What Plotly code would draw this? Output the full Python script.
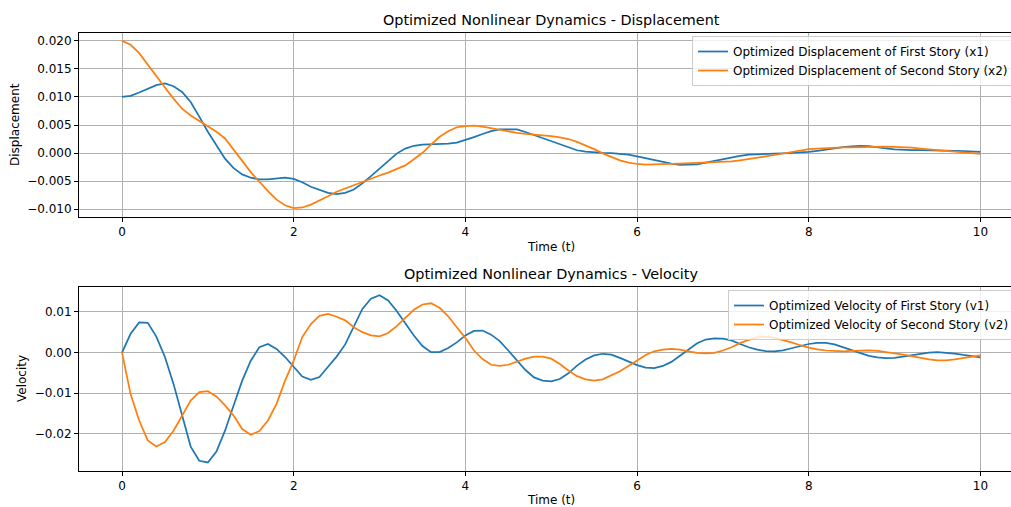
import numpy as np
import plotly.graph_objects as go

# time samples
t = np.linspace(0, 10, 101)

# displacement (m)
x1 = [0.0100, 0.0102, 0.0108, 0.0115, 0.0121, 0.0124, 0.0119, 0.0109, 0.0091, 0.0065,
      0.0038, 0.0014, -0.0010, -0.0027, -0.0038, -0.0044, -0.0047, -0.0047, -0.0046, -0.0044,
      -0.0046, -0.0052, -0.0060, -0.0066, -0.0071, -0.0073, -0.0071, -0.0065, -0.0054, -0.0041,
      -0.0028, -0.0014, -0.0001, 0.0008, 0.0013, 0.0015, 0.00155, 0.00155, 0.0017, 0.00185,
      0.0023, 0.00285, 0.0034, 0.0039, 0.0042, 0.0042, 0.0042, 0.00375, 0.0032, 0.0026,
      0.0021, 0.0016, 0.0010, 0.0005, 0.00025, 0.0001, 0.00005, 0.0, -0.0001, -0.0003,
      -0.0006, -0.00095, -0.0013, -0.00165, -0.0019, -0.0021, -0.0021, -0.0020, -0.0017, -0.0014,
      -0.0010, -0.0007, -0.0005, -0.0003, -0.0002, -0.0002, -0.0001, -0.00005, 0.0, 0.00005,
      0.0002, 0.0004, 0.00065, 0.0009, 0.00105, 0.0012, 0.0013, 0.00125, 0.0011, 0.00085,
      0.00065, 0.00055, 0.0005, 0.0005, 0.0005, 0.0005, 0.00045, 0.0004, 0.00035, 0.0003,
      0.0002]
x2 = [0.0200, 0.0193, 0.0178, 0.0157, 0.0136, 0.0117, 0.0097, 0.0079, 0.0067, 0.0057,
      0.0047, 0.0038, 0.0026, 0.0007, -0.0014, -0.0034, -0.0051, -0.0068, -0.0083, -0.0093,
      -0.0098, -0.0097, -0.0092, -0.0085, -0.0077, -0.0069, -0.0063, -0.0057, -0.0051, -0.0045,
      -0.0040, -0.0035, -0.0029, -0.0022, -0.0011, 0.00005, 0.0015, 0.0029, 0.0039, 0.0046,
      0.0048, 0.0049, 0.0047, 0.0044, 0.0041, 0.0038, 0.0036, 0.0034, 0.0033, 0.00315,
      0.0030, 0.0028, 0.0025, 0.0020, 0.0014, 0.0007, -0.00005, -0.0007, -0.0013, -0.0017,
      -0.00195, -0.00205, -0.00205, -0.0020, -0.00195, -0.0019, -0.00185, -0.0018, -0.00175, -0.0017,
      -0.0016, -0.0015, -0.0013, -0.0011, -0.00085, -0.0006, -0.00035, -0.0001, 0.00015, 0.00045,
      0.0007, 0.0008, 0.0009, 0.00095, 0.0010, 0.0010, 0.00105, 0.0011, 0.00115, 0.00115,
      0.0011, 0.00105, 0.00095, 0.0008, 0.00065, 0.0005, 0.00035, 0.0002, 0.00005, -0.00005,
      -0.00015]

# velocity (m/s)
v1 = [0.0, 0.0046, 0.0074, 0.0073, 0.0039, -0.0011, -0.0077, -0.0151, -0.0231, -0.0266,
      -0.0270, -0.0243, -0.0192, -0.0130, -0.0069, -0.0020, 0.0013, 0.0021, 0.0009, -0.0011,
      -0.0036, -0.0059, -0.0067, -0.0060, -0.0035, -0.0010, 0.0020, 0.0062, 0.0107, 0.0132,
      0.0141, 0.0128, 0.0102, 0.0072, 0.0042, 0.0016, 0.0001, 0.0001, 0.0011, 0.0025,
      0.0042, 0.0053, 0.0054, 0.0044, 0.0028, 0.0005, -0.0018, -0.0043, -0.0061, -0.0069,
      -0.0071, -0.0065, -0.0051, -0.0032, -0.0017, -0.0007, -0.0003, -0.0005, -0.0013, -0.0023,
      -0.0031, -0.0037, -0.0038, -0.0033, -0.0023, -0.0008, 0.0008, 0.0023, 0.0032, 0.0035,
      0.0034, 0.0030, 0.0021, 0.0013, 0.0007, 0.00035, 0.0003, 0.00055, 0.00105, 0.0016,
      0.0021, 0.0024, 0.0024, 0.0020, 0.0013, 0.0005, -0.00025, -0.0008, -0.0012, -0.0014,
      -0.0013, -0.0010, -0.0006, -0.00025, 0.0, 0.0001, 0.0, -0.00025, -0.0006, -0.0009,
      -0.0012]
v2 = [0.0, -0.0102, -0.0167, -0.0216, -0.0231, -0.0220, -0.0192, -0.0155, -0.0118, -0.0097,
      -0.0095, -0.0108, -0.0130, -0.0155, -0.0188, -0.0202, -0.0193, -0.0167, -0.0126, -0.0069,
      -0.0020, 0.0038, 0.0070, 0.0090, 0.0095, 0.0088, 0.0079, 0.0062, 0.0050, 0.0042,
      0.0040, 0.0048, 0.0065, 0.0085, 0.0105, 0.0118, 0.0121, 0.0110, 0.0089, 0.0062,
      0.0036, 0.0005, -0.0016, -0.0030, -0.0033, -0.0030, -0.0023, -0.0015, -0.0010, -0.0010,
      -0.0015, -0.0028, -0.0044, -0.0058, -0.0066, -0.0069, -0.0066, -0.0057, -0.0046, -0.0033,
      -0.0020, -0.0006, 0.0003, 0.0007, 0.0009, 0.0007, 0.0003, -0.0001, -0.0002, -0.0001,
      0.0005, 0.0013, 0.0023, 0.0031, 0.0037, 0.0039, 0.0036, 0.0031, 0.0025, 0.0018,
      0.0012, 0.0008, 0.0005, 0.0004, 0.0003, 0.0004, 0.0005, 0.0005, 0.0004, 0.00015,
      -0.0001, -0.0005, -0.0009, -0.0013, -0.0017, -0.0019, -0.0019, -0.0017, -0.0014, -0.0011,
      -0.0007]

names = ["Optimized Displacement of First Story (x1)",
         "Optimized Displacement of Second Story (x2)",
         "Optimized Velocity of First Story (v1)",
         "Optimized Velocity of Second Story (v2)"]
titles = ["Optimized Nonlinear Dynamics - Displacement",
          "Optimized Nonlinear Dynamics - Velocity"]
xlabel = "Time (t)"
ylabels = ["Displacement", "Velocity"]

BLUE = "#1f77b4"
ORANGE = "#ff7f0e"
FONT = "DejaVu Sans"

fig = go.Figure()
fig.add_trace(go.Scatter(x=t, y=x1, mode="lines", name=names[0], line=dict(color=BLUE, width=1.75),
                         xaxis="x", yaxis="y", legend="legend"))
fig.add_trace(go.Scatter(x=t, y=x2, mode="lines", name=names[1], line=dict(color=ORANGE, width=1.75),
                         xaxis="x", yaxis="y", legend="legend"))
fig.add_trace(go.Scatter(x=t, y=v1, mode="lines", name=names[2], line=dict(color=BLUE, width=1.75),
                         xaxis="x2", yaxis="y2", legend="legend2"))
fig.add_trace(go.Scatter(x=t, y=v2, mode="lines", name=names[3], line=dict(color=ORANGE, width=1.75),
                         xaxis="x2", yaxis="y2", legend="legend2"))

W, H = 1011, 507
ML, MR, MT, MB = 79, 0, 33, 36
plot_h = H - MT - MB


def py(p):
    return (H - MB - p) / plot_h


def px(p):
    return (p - ML) / (W - ML - MR)


axis_common = dict(showline=True, linecolor="black", linewidth=1, mirror=True,
                   ticks="outside", ticklen=4, tickwidth=1, tickcolor="black",
                   showgrid=True, gridcolor="#b0b0b0", gridwidth=0.9, zeroline=False,
                   tickfont=dict(family=FONT, size=12, color="black"))

xr = [-0.501, 10.356]
LEGFONT = dict(family=FONT, size=12, color="black")
fig.update_layout(
    width=W, height=H,
    margin=dict(l=ML, r=MR, t=MT, b=MB, autoexpand=False),
    paper_bgcolor="white", plot_bgcolor="white",
    font=dict(family=FONT, size=12, color="black"),
    xaxis=dict(domain=[0, 1], range=xr, dtick=2, anchor="y", **axis_common),
    yaxis=dict(domain=[py(217), 1.0], range=[-0.0114, 0.0214], dtick=0.005, tickformat=".3f",
               anchor="x", **axis_common),
    xaxis2=dict(domain=[0, 1], range=xr, dtick=2, anchor="y2", **axis_common),
    yaxis2=dict(domain=[0, py(287)], range=[-0.0291, 0.0161], dtick=0.01, tickformat=".2f",
                anchor="x2", **axis_common),
    legend=dict(xref="container", yref="container", x=692 / W, y=1 - 36 / H,
                xanchor="left", yanchor="top",
                bgcolor="rgba(255,255,255,0.8)", bordercolor="#cccccc", borderwidth=1,
                font=LEGFONT, itemwidth=30),
    legend2=dict(xref="container", yref="container", x=728 / W, y=1 - 290 / H,
                 xanchor="left", yanchor="top",
                 bgcolor="rgba(255,255,255,0.8)", bordercolor="#cccccc", borderwidth=1,
                 font=LEGFONT, itemwidth=30),
    showlegend=True,
)

ann = []
cx = px(551)
TFONT = dict(family=FONT, size=14.4, color="black")
LFONT = dict(family=FONT, size=12, color="black")
ann.append(dict(text=titles[0], x=cx, y=py(30), xref="paper", yref="paper", xanchor="center",
                yanchor="bottom", showarrow=False, font=TFONT))
ann.append(dict(text=titles[1], x=cx, y=py(284), xref="paper", yref="paper", xanchor="center",
                yanchor="bottom", showarrow=False, font=TFONT))
ann.append(dict(text=xlabel, x=cx, y=py(247), xref="paper", yref="paper", xanchor="center",
                yanchor="middle", showarrow=False, font=LFONT))
ann.append(dict(text=xlabel, x=cx, y=py(500), xref="paper", yref="paper", xanchor="center",
                yanchor="middle", showarrow=False, font=LFONT))
ann.append(dict(text=ylabels[0], x=px(15), y=py(125), xref="paper", yref="paper", xanchor="center",
                yanchor="middle", textangle=-90, showarrow=False, font=LFONT))
ann.append(dict(text=ylabels[1], x=px(22), y=py(379), xref="paper", yref="paper", xanchor="center",
                yanchor="middle", textangle=-90, showarrow=False, font=LFONT))
fig.update_layout(annotations=ann)

fig.write_html("out.html", config={"displayModeBar": False},
               post_script="document.body.style.margin='0px';document.body.style.overflow='hidden';")
